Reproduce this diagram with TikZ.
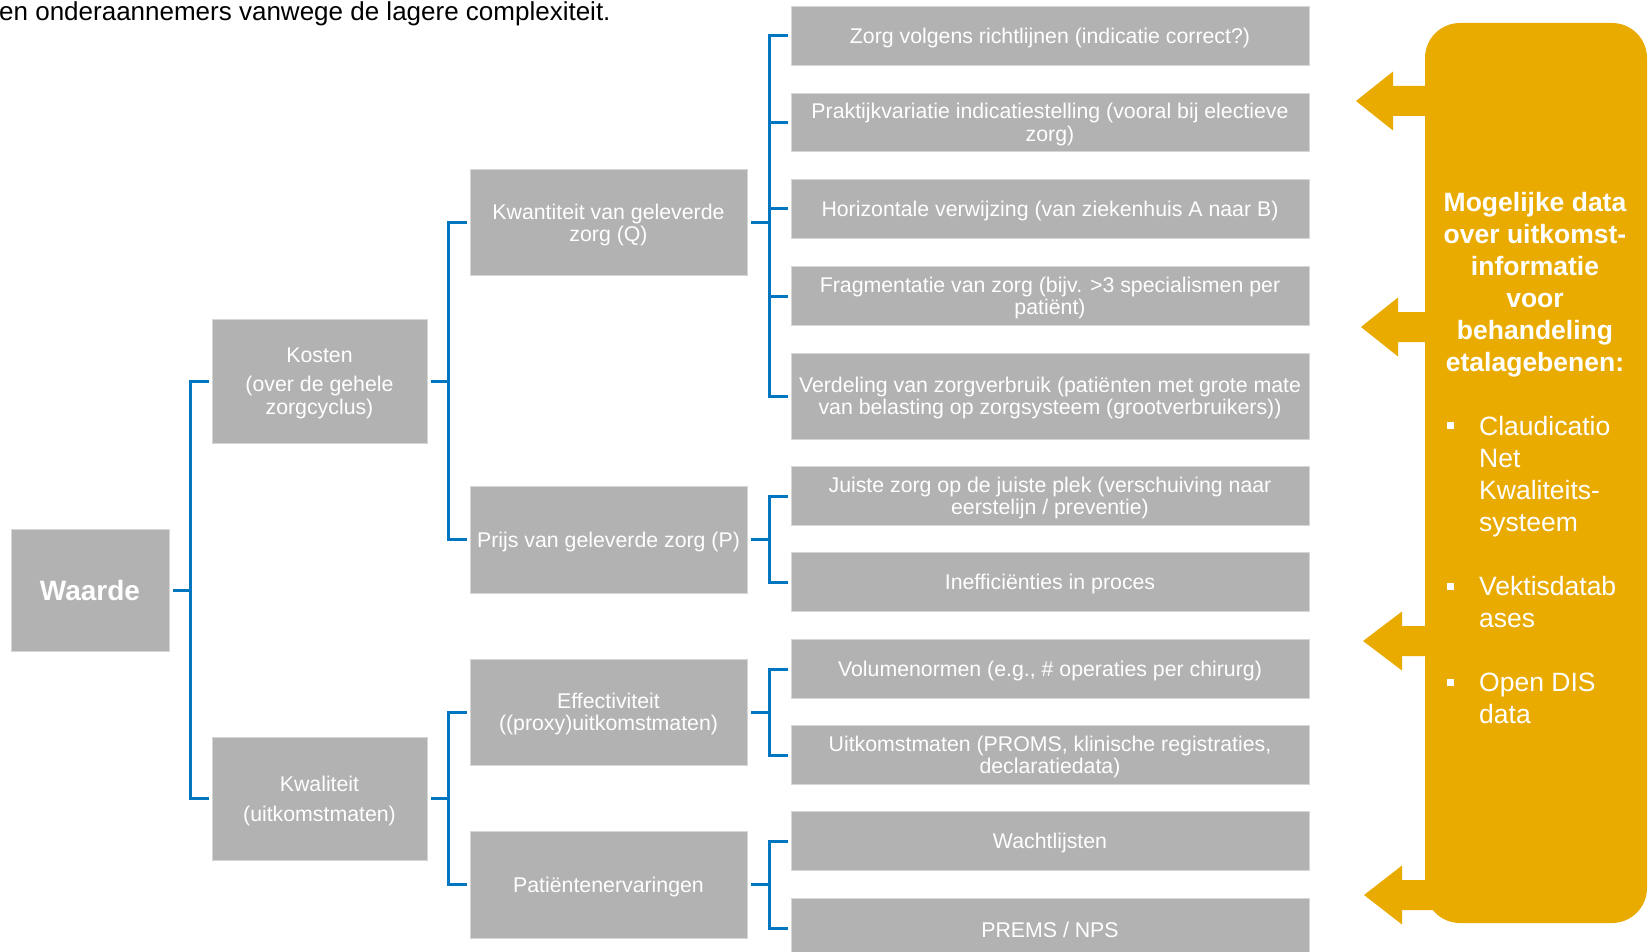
\documentclass[tikz,border=0pt]{standalone}
\usepackage{fontspec}
\setmainfont{Liberation Sans}

\definecolor{boxgrey}{RGB}{178,178,178}
\definecolor{boxrim}{RGB}{214,214,214}
\definecolor{linkblue}{RGB}{0,118,192}
\definecolor{dataorange}{RGB}{234,171,0}

% invisible strut that sets the text a little lower in its box
\newcommand\lift{\rule{0pt}{19.6pt}}

\tikzset{
  greybox/.style={rectangle, fill=boxgrey, draw=boxrim, line width=1pt, inner sep=0pt,
    text=white, align=center, font=\fontsize{21.3}{22.5}\selectfont,
    execute at begin node={\lift}},
  leafbox/.style={greybox, minimum width=518pt, minimum height=58.5pt},
  midbox/.style={greybox, minimum width=277pt, minimum height=106pt},
  topbox/.style={greybox, minimum width=215pt, minimum height=124pt},
  conn/.style={draw=linkblue, line width=3pt, line join=miter},
  paneltext/.style={text=white, inner sep=0pt, font=\bfseries\fontsize{26.5}{32}\selectfont},
  itemtext/.style={text=white, inner sep=0pt, anchor=west, align=left, font=\fontsize{26.5}{32}\selectfont},
}

% outgoing arrow of the data panel: tip x, head base x, centre y
\newcommand\panelarrow[3]{%
  \fill[dataorange] (#2,#3-29.5) -- (#1,#3) -- (#2,#3+29.5) -- (#2,#3+15)
    -- (1445,#3+15) -- (1445,#3-15) -- (#2,#3-15) -- cycle;}

\begin{document}
\begin{tikzpicture}[x=1pt,y=-1pt]
\useasboundingbox (0,0) rectangle (1650,952);

% running text above the tree
\node[anchor=base west, inner sep=0pt, font=\fontsize{26}{30}\selectfont] (intro)
  at (-1,21) {en onderaannemers vanwege de lagere complexiteit.};

% junction columns
\coordinate (j1) at (190,0);
\coordinate (j2) at (448,0);
\coordinate (j3) at (769,0);

% root
\node[greybox, minimum width=158pt, minimum height=122pt,
      font=\bfseries\fontsize{28}{32}\selectfont] (waarde) at (90,590) {Waarde};

% first level
\node[topbox] (kosten) at (319.5,381) {\lift Kosten\\[6.5pt](over de gehele\\zorgcyclus)};
\node[topbox, minimum height=123pt, font=\fontsize{21.3}{30}\selectfont] (kwaliteit)
  at (319.5,798.5) {\lift Kwaliteit\\(uitkomstmaten)};

% second level
\node[midbox] (kwantiteit) at (608.5,223) {\lift Kwantiteit van geleverde\\zorg (Q)};
\node[midbox, minimum height=107pt] (prijs) at (608.5,539.5) {Prijs van geleverde zorg (P)};
\node[midbox] (effect) at (608.5,712) {\lift Effectiviteit\\((proxy)uitkomstmaten)};
\node[midbox, minimum height=107pt] (ervaring) at (608.5,884.5) {Patiëntenervaringen};

% third level
\node[leafbox] (l1) at (1050,36) {Zorg volgens richtlijnen (indicatie correct?)};
\node[leafbox] (l2) at (1050,122.5) {\lift Praktijkvariatie indicatiestelling (vooral bij electieve\\zorg)};
\node[leafbox] (l3) at (1050,209) {Horizontale verwijzing (van ziekenhuis A naar B)};
\node[leafbox] (l4) at (1050,296) {\lift Fragmentatie van zorg (bijv. >3 specialismen per\\patiënt)};
\node[leafbox, minimum height=86pt] (l5) at (1050,396) {\lift Verdeling van zorgverbruik (patiënten met grote mate\\van belasting op zorgsysteem (grootverbruikers))};
\node[leafbox] (l6) at (1050,496) {\lift Juiste zorg op de juiste plek (verschuiving naar\\eerstelijn / preventie)};
\node[leafbox] (l7) at (1050,582) {Inefficiënties in proces};
\node[leafbox] (l8) at (1050,669) {Volumenormen (e.g., \# operaties per chirurg)};
\node[leafbox] (l9) at (1050,755) {\lift Uitkomstmaten (PROMS, klinische registraties,\\declaratiedata)};
\node[leafbox] (l10) at (1050,841) {Wachtlijsten};
\node[leafbox] (l11) at (1050,928) {PREMS / NPS};

% tree connectors
\draw[conn] ([xshift=3]waarde.east) -- (waarde.east -| j1);
\draw[conn] ([xshift=-3]kosten.west) -- (kosten.west -| j1) -- (kwaliteit.west -| j1) -- ([xshift=-3]kwaliteit.west);

\draw[conn] ([xshift=3]kosten.east) -- (kosten.east -| j2);
\draw[conn] ([xshift=-3]kwantiteit.west) -- (kwantiteit.west -| j2) -- (prijs.west -| j2) -- ([xshift=-3]prijs.west);
\draw[conn] ([xshift=3]kwaliteit.east) -- (kwaliteit.east -| j2);
\draw[conn] ([xshift=-3]effect.west) -- (effect.west -| j2) -- (ervaring.west -| j2) -- ([xshift=-3]ervaring.west);

\draw[conn] ([xshift=3]kwantiteit.east) -- (kwantiteit.east -| j3);
\draw[conn] ([xshift=-3]l1.west) -- (l1.west -| j3) -- (l5.west -| j3) -- ([xshift=-3]l5.west);
\foreach \leaf in {l2,l3,l4}
  \draw[conn] (\leaf.west -| j3) -- ([xshift=-3]\leaf.west);

\draw[conn] ([xshift=3]prijs.east) -- (prijs.east -| j3);
\draw[conn] ([xshift=-3]l6.west) -- (l6.west -| j3) -- (l7.west -| j3) -- ([xshift=-3]l7.west);

\draw[conn] ([xshift=3]effect.east) -- (effect.east -| j3);
\draw[conn] ([xshift=-3]l8.west) -- (l8.west -| j3) -- (l9.west -| j3) -- ([xshift=-3]l9.west);

\draw[conn] ([xshift=3]ervaring.east) -- (ervaring.east -| j3);
\draw[conn] ([xshift=-3]l10.west) -- (l10.west -| j3) -- (l11.west -| j3) -- ([xshift=-3]l11.west);

% data panel with its arrows
\node[fill=dataorange, rounded corners=35pt, minimum width=222pt, minimum height=900pt,
      inner sep=0pt] (panel) at (1536,473) {};
\panelarrow{1356}{1393}{101}
\panelarrow{1361}{1398}{327}
\panelarrow{1363}{1402}{641}
\panelarrow{1364}{1402}{895}

\node[paneltext, align=center] (paneltitle) at (1535,285)
  {Mogelijke data\\over uitkomst-\\informatie\\voor\\behandeling\\etalagebenen:};

\fill[white] (1446.5,421.5) rectangle (1453.5,428.5);
\fill[white] (1446.5,582.5) rectangle (1453.5,589.5);
\fill[white] (1446.5,678.5) rectangle (1453.5,685.5);
\node[itemtext] (item1) at (1479,477) {Claudicatio\\Net\\Kwaliteits-\\systeem};
\node[itemtext] (item2) at (1479,602) {Vektisdatab\\ases};
\node[itemtext] (item3) at (1479,698) {Open DIS\\data};

\end{tikzpicture}
\end{document}
